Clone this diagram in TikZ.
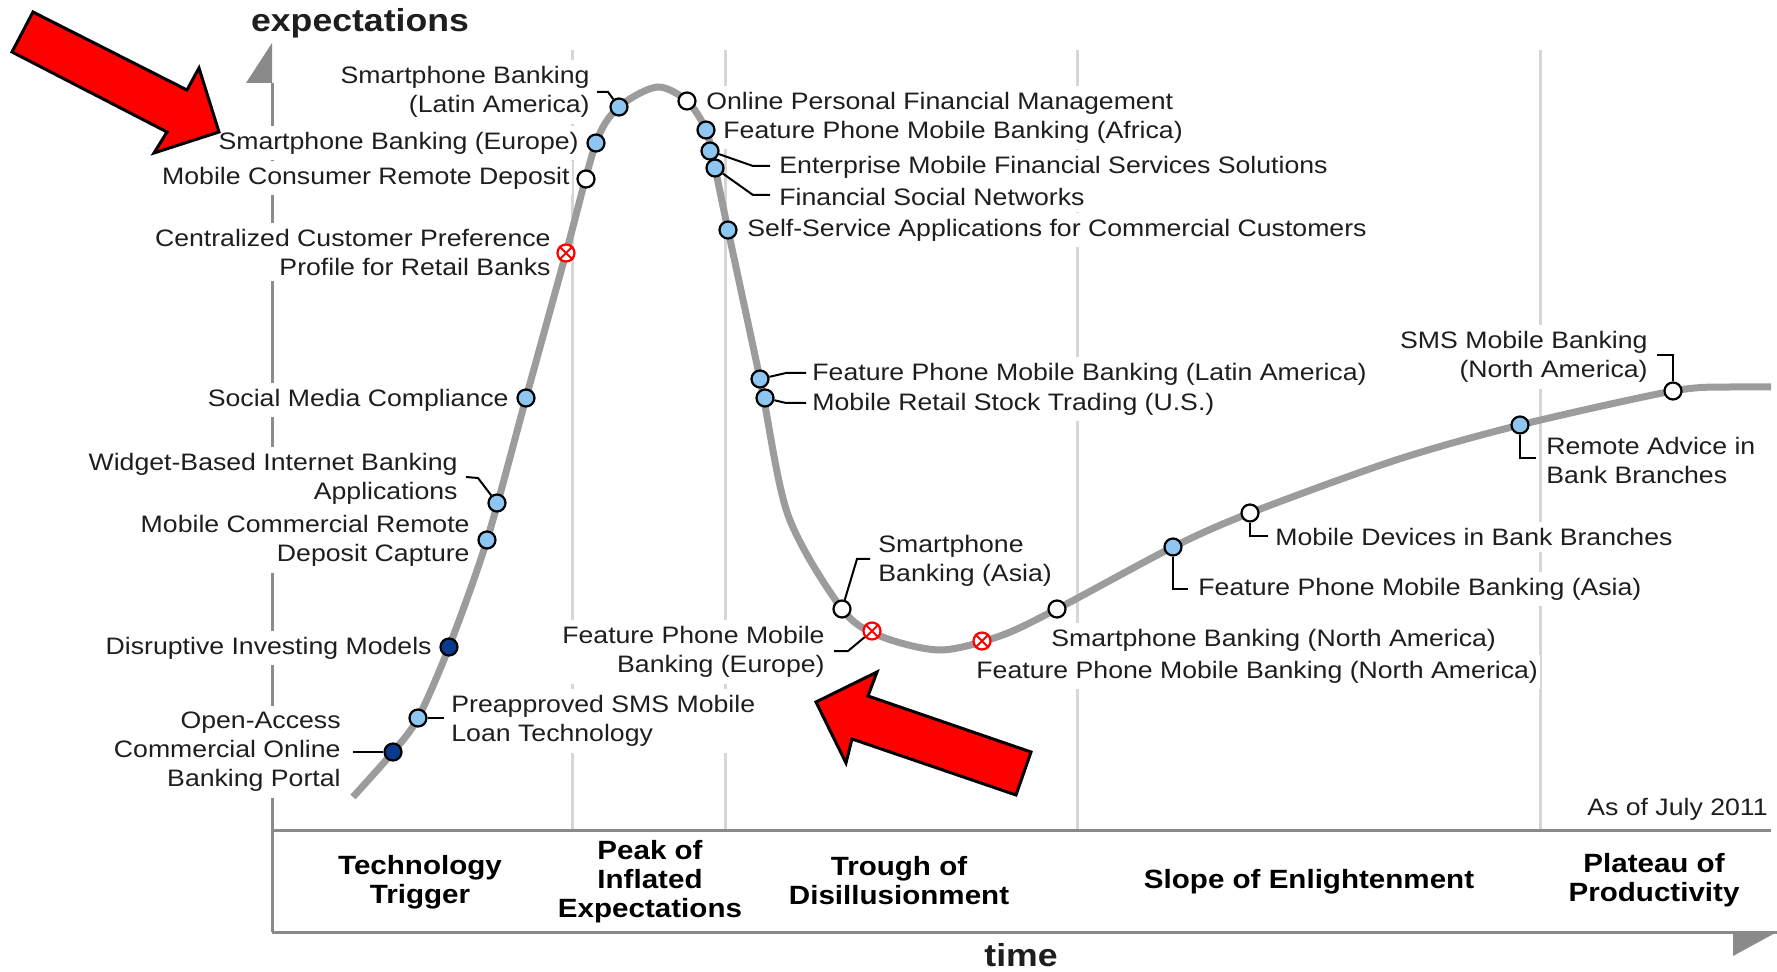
\documentclass[tikz,border=0pt]{standalone}
\usepackage{fontspec}
\setmainfont{Liberation Sans}[FakeStretch=1.12]
\definecolor{curvegray}{HTML}{9C9C9C}
\definecolor{axisgray}{HTML}{8A8A8A}
\definecolor{gridgray}{HTML}{D6D6D6}
\definecolor{dotblue}{HTML}{8EC6F2}
\definecolor{dotnavy}{HTML}{0A3A8E}
\definecolor{labeltext}{HTML}{1E1E1E}
\newcommand\lblfont{\fontsize{11.9}{14.5}\selectfont}
\newcommand\phasefont{\bfseries\fontsize{13.2}{14.5}\selectfont}
\newcommand\axisfont{\bfseries\fontsize{15.9}{16}\selectfont}
\newcommand\crossmark[2]{%
  \node[xdot] (#1) at (#2) {};
  \draw[red, line width=0.9pt] (#1.45) -- (#1.225) (#1.135) -- (#1.315);}
\begin{document}
\begin{tikzpicture}[x=0.5pt, y=-0.5pt,
  lbl/.style={font=\lblfont, text=labeltext, fill=white, inner xsep=1pt, inner ysep=3pt},
  lblr/.style={lbl, anchor=east, align=right},
  lbll/.style={lbl, anchor=west, align=left},
  phase/.style={font=\phasefont, text=black, align=center},
  mk/.style={circle, draw=black, line width=1.1pt, minimum size=8.5pt, inner sep=0pt},
  bluedot/.style={mk, fill=dotblue},
  opendot/.style={mk, fill=white},
  navydot/.style={mk, fill=dotnavy},
  xdot/.style={mk, draw=red, fill=white},
  leader/.style={draw=black, line width=1pt},
  hype/.style={draw=curvegray, line width=3.5pt},
  gridline/.style={draw=gridgray, line width=1.5pt},
  axisline/.style={draw=axisgray, line width=1.5pt},
  bigarrow/.style={fill=red, draw=black, line width=1.5pt, line join=miter}
]
\useasboundingbox (0,0) rectangle (1777,972);

% phase separators
\foreach \gx in {572,725,1077,1540}
  \draw[gridline] (\gx,50) -- (\gx,830);

% axes and phase band
\draw[axisline] (272,83) -- (272,932);
\draw[axisline] (272,830) -- (1771,830);
\draw[axisline] (272,932) -- (1777,932);
\fill[axisgray] (272,43) -- (272,83) -- (246,83) -- cycle;
\fill[axisgray] (1733,932) -- (1777,932) -- (1733,956) -- cycle;

\node[font=\axisfont, anchor=base, text=labeltext] (ylab) at (360,32) {expectations};
\node[font=\axisfont, anchor=base, text=labeltext] (xlab) at (1021,966) {time};

% technology labels
\node[lblr] (l1) at (592,92) {Smartphone Banking\\(Latin America)};
\node[lblr] (l2) at (581,143) {Smartphone Banking (Europe)};
\node[lblr] (l3) at (572,178) {Mobile Consumer Remote Deposit};
\node[lblr] (l4) at (553,252) {Centralized Customer Preference\\Profile for Retail Banks};
\node[lblr] (l5) at (511,400) {Social Media Compliance};
\node[lblr] (l6) at (460,479) {Widget-Based Internet Banking\\Applications};
\node[lblr] (l7) at (472,541) {Mobile Commercial Remote\\Deposit Capture};
\node[lblr] (l8) at (434,648) {Disruptive Investing Models};
\node[lblr] (l9) at (343,752) {Open-Access\\Commercial Online\\Banking Portal};
\node[lbll] (l10) at (449,721) {Preapproved SMS Mobile\\Loan Technology};
\node[lbll] (l11) at (704,103) {Online Personal Financial Management};
\node[lbll] (l12) at (721,132) {Feature Phone Mobile Banking (Africa)};
\node[lbll] (l13) at (777,167) {Enterprise Mobile Financial Services Solutions};
\node[lbll] (l14) at (777,197) {Financial Social Networks};
\node[lbll] (l15) at (745,230) {Self-Service Applications for Commercial Customers};
\node[lbll] (l16) at (810,374) {Feature Phone Mobile Banking (Latin America)};
\node[lbll] (l17) at (810,404) {Mobile Retail Stock Trading (U.S.)};
\node[lbll] (l18) at (876,561) {Smartphone\\Banking (Asia)};
\node[lblr] (l19) at (827,652) {Feature Phone Mobile\\Banking (Europe)};
\node[lbll] (l20) at (1049,640) {Smartphone Banking (North America)};
\node[lbll] (l21) at (974,672) {Feature Phone Mobile Banking (North America)};
\node[lbll] (l22) at (1196,589) {Feature Phone Mobile Banking (Asia)};
\node[lbll] (l23) at (1273,537) {Mobile Devices in Bank Branches};
\node[lbll] (l24) at (1544,460) {Remote Advice in\\Bank Branches};
\node[lblr] (l25) at (1650,357) {SMS Mobile Banking\\(North America)};
\node[lblr] (asof) at (1770,809) {As of July 2011};

% hype cycle curve
\draw[hype] plot[smooth, tension=0.5] coordinates {
  (353,797) (393,752) (418,718) (449,647) (487,540) (526,398) (566,253)
  (596,143) (619,107) (657,87) (687,101) (706,130) (715,168) (728,230)
  (760,379) (788,515) (842,609) (880,636) (940,650) (1000,636)
  (1057,609) (1173,547) (1250,513) (1396,460) (1520,425) (1673,391)
  (1730,387) (1771,387)};

% markers
\node[bluedot] (d1) at (619,107) {};
\node[bluedot] (d2) at (596,143) {};
\node[opendot] (d3) at (586,179) {};
\crossmark{d4}{566,253}
\node[bluedot] (d5) at (526,398) {};
\node[bluedot] (d6) at (497,503) {};
\node[bluedot] (d7) at (487,540) {};
\node[navydot] (d8) at (449,647) {};
\node[navydot] (d9) at (393,752) {};
\node[bluedot] (d10) at (418,718) {};
\node[opendot] (d11) at (687,101) {};
\node[bluedot] (d12) at (706,130) {};
\node[bluedot] (d13) at (710,151) {};
\node[bluedot] (d14) at (715,168) {};
\node[bluedot] (d15) at (728,230) {};
\node[bluedot] (d16) at (760,379) {};
\node[bluedot] (d17) at (765,398) {};
\node[opendot] (d18) at (842,609) {};
\crossmark{d19}{872,631}
\crossmark{d20}{982,641}
\node[opendot] (d21) at (1057,609) {};
\node[bluedot] (d22) at (1173,547) {};
\node[opendot] (d23) at (1250,513) {};
\node[bluedot] (d24) at (1520,425) {};
\node[opendot] (d25) at (1673,391) {};

% leader lines
\draw[leader] (597,92) -- (608,92) -- (d1);
\draw[leader] (466,477) -- (478,478) -- (d6);
\draw[leader] (353,752) -- (d9);
\draw[leader] (d10) -- (444,718);
\draw[leader] (d13) -- (753,166) -- (770,166);
\draw[leader] (d14) -- (753,195) -- (770,195);
\draw[leader] (d16) -- (786,373) -- (806,373);
\draw[leader] (d17) -- (786,403) -- (806,403);
\draw[leader] (d18) -- (857,559) -- (870,559);
\draw[leader] (834,651) -- (848,651) -- (d19);
\draw[leader] (d22) -- (1173,589) -- (1188,589);
\draw[leader] (d23) -- (1250,536) -- (1268,536);
\draw[leader] (d24) -- (1520,458) -- (1536,458);
\draw[leader] (1657,355) -- (1673,355) -- (d25);

% phase names
\node[phase] (p1) at (420,882) {Technology\\Trigger};
\node[phase] (p2) at (650,882) {Peak of\\Inflated\\Expectations};
\node[phase] (p3) at (899,881) {Trough of\\Disillusionment};
\node[phase] (p4) at (1309,882) {Slope of Enlightenment};
\node[phase] (p5) at (1654,880) {Plateau of\\Productivity};

% red pointer arrows
\draw[bigarrow] (33,12) -- (187,90) -- (199,68) -- (219,132) -- (154,153)
  -- (167,132) -- (12,52) -- cycle;
\draw[bigarrow] (816,702) -- (877,672) -- (868,696) -- (1031,752) -- (1016,795)
  -- (852,739) -- (846,763) -- cycle;
\end{tikzpicture}
\end{document}
